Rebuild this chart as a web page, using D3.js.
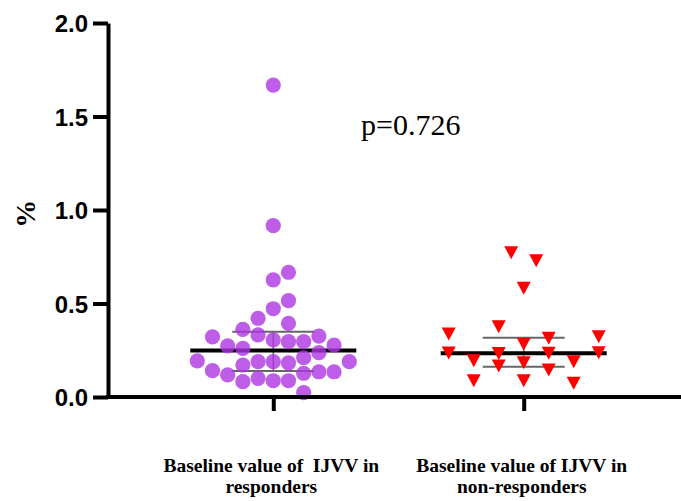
<!DOCTYPE html>
<html>
<head>
<meta charset="utf-8">
<script src="https://cdn.jsdelivr.net/npm/d3@7"></script>
<style>
    body { margin: 0; background: #fff; }
    .ytext { font-family: "Liberation Sans", Arial, sans-serif; font-weight: bold; font-size: 24px; fill: #000; }
    .ylabel { font-family: "Liberation Serif", "Times New Roman", serif; font-weight: bold; font-size: 28px; }
    .xlabel { font-family: "Liberation Serif", "Times New Roman", serif; font-weight: bold; font-size: 19.5px; white-space: pre; }
    .pval { font-family: "Liberation Serif", "Times New Roman", serif; font-size: 30px; }
</style>
</head>
<body>
<script>
// groups
const groups = ["responders", "non-responders"];
const groupLines = [
    ["Baseline value of  IJVV in", "responders"],
    ["Baseline value of IJVV in", "non-responders"]
];

// responders (%), with swarm column index
const respValues = [1.668, 0.916, 0.667, 0.626, 0.515, 0.472, 0.421, 0.394,
    0.362, 0.332, 0.322, 0.326, 0.305, 0.296, 0.296, 0.278, 0.273, 0.260,
    0.237, 0.210, 0.193, 0.189, 0.189, 0.183, 0.189, 0.171, 0.141, 0.135,
    0.135, 0.127, 0.118, 0.100, 0.087, 0.087, 0.082, 0.023];
const respLanes = [0, 0, 1, 0, 1, 0, -1, 1,
    -2, -1, -4, 3, 0, 1, 2, 4, -3, -2,
    3, 2, -5, -1, 0, 1, 5, -2, -4, 3,
    4, 2, -3, -1, 0, 1, -2, 2];

// non-responders (%)
const nonValues = [0.772, 0.729, 0.581, 0.376, 0.337, 0.322, 0.314, 0.282,
    0.235, 0.232, 0.234, 0.237, 0.194, 0.189, 0.183, 0.166, 0.144, 0.087,
    0.087, 0.073];
const nonLanes = [-0.5, 0.5, 0, -1, -3, 3, 1, 0,
    -3, -1, 1, 3, -2, 2, 0, -1, 1, -2,
    0, 2];

// median and interquartile range
const medians = [0.248, 0.234];
const q1s = [0.139, 0.162];
const q3s = [0.349, 0.317];

const yTicks = [0, 0.5, 1.0, 1.5, 2.0];
const pText = "p=0.726";

const W = 681, H = 501;
const plot = {left: 108, right: W, top: 23, bottom: 397};

const svg = d3.select("body").append("svg")
    .attr("width", W)
    .attr("height", H);

const y = d3.scaleLinear().domain([0, 2]).range([plot.bottom, plot.top]);
const x = d3.scalePoint().domain(groups).range([plot.left, 689]).padding(0.66);

// column spacing of the swarm, per group
const laneStep = {"responders": 15.2, "non-responders": 25};

const points = [];
respValues.forEach((v, i) => points.push({g: groups[0], v: v, lane: respLanes[i]}));
nonValues.forEach((v, i) => points.push({g: groups[1], v: v, lane: nonLanes[i]}));

// error bars: median + IQR (drawn below the symbols)
const bars = svg.append("g").attr("id", "bars");
groups.forEach((g, i) => {
    const cx = x(g);
    bars.append("line")
        .attr("x1", cx).attr("x2", cx)
        .attr("y1", y(q3s[i])).attr("y2", y(q1s[i]))
        .attr("stroke", "#666").attr("stroke-width", 1.5);
    [q1s[i], q3s[i]].forEach(q => {
        bars.append("line")
            .attr("x1", cx - 41).attr("x2", cx + 41)
            .attr("y1", y(q)).attr("y2", y(q))
            .attr("stroke", "#666").attr("stroke-width", 2);
    });
    bars.append("line")
        .attr("x1", cx - 83).attr("x2", cx + 83)
        .attr("y1", y(medians[i])).attr("y2", y(medians[i]))
        .attr("stroke", "#000").attr("stroke-width", 4);
});

// responders: purple circles
svg.append("g")
    .selectAll("circle")
    .data(points.filter(d => d.g === groups[0]))
    .enter()
    .append("circle")
    .attr("cx", d => x(d.g) + d.lane * laneStep[d.g])
    .attr("cy", d => y(d.v))
    .attr("r", 7.6)
    .attr("fill", "rgb(172,52,226)")
    .attr("fill-opacity", 0.8);

// non-responders: red down triangles
const tw = 14, th = 13;
svg.append("g")
    .selectAll("path")
    .data(points.filter(d => d.g === groups[1]))
    .enter()
    .append("path")
    .attr("d", `M${-tw/2},${-th/2}L${tw/2},${-th/2}L0,${th/2}Z`)
    .attr("transform", d => "translate(" + (x(d.g) + d.lane * laneStep[d.g]) + "," + y(d.v) + ")")
    .attr("fill", "#ff0000");

// y axis
const yAxis = svg.append("g")
    .attr("id", "yaxis")
    .attr("transform", "translate(" + plot.left + ",0)")
    .call(d3.axisLeft(y).tickValues(yTicks).tickFormat(d3.format(".1f"))
        .tickSize(15).tickSizeOuter(0).tickPadding(5));
yAxis.select(".domain").attr("stroke-width", 4);
yAxis.selectAll(".tick line").attr("stroke-width", 4);
yAxis.selectAll(".tick text").attr("class", "ytext").attr("dy", "0.36em");

// x axis
const xAxis = svg.append("g")
    .attr("id", "xaxis")
    .attr("transform", "translate(0," + plot.bottom + ")")
    .call(d3.axisBottom(x).tickSize(14).tickFormat(""));
xAxis.select(".domain").remove();
xAxis.selectAll(".tick line").attr("stroke-width", 4);
xAxis.append("line")
    .attr("x1", plot.left - 2).attr("x2", plot.right)
    .attr("stroke", "#000").attr("stroke-width", 4);

// group labels
groups.forEach((g, i) => {
    const t = svg.append("text")
        .attr("class", "xlabel")
        .attr("text-anchor", "middle");
    groupLines[i].forEach((s, j) => {
        t.append("tspan")
            .attr("x", x(g) - 2)
            .attr("y", 472 + j * 21)
            .text(s);
    });
});

// y label
svg.append("text")
    .attr("class", "ylabel")
    .attr("text-anchor", "middle")
    .attr("transform", "translate(35," + y(0.98) + ") rotate(-90)")
    .text("%");

// p value
svg.append("text")
    .attr("class", "pval")
    .attr("x", 361)
    .attr("y", 135)
    .text(pText);
</script>
</body>
</html>
